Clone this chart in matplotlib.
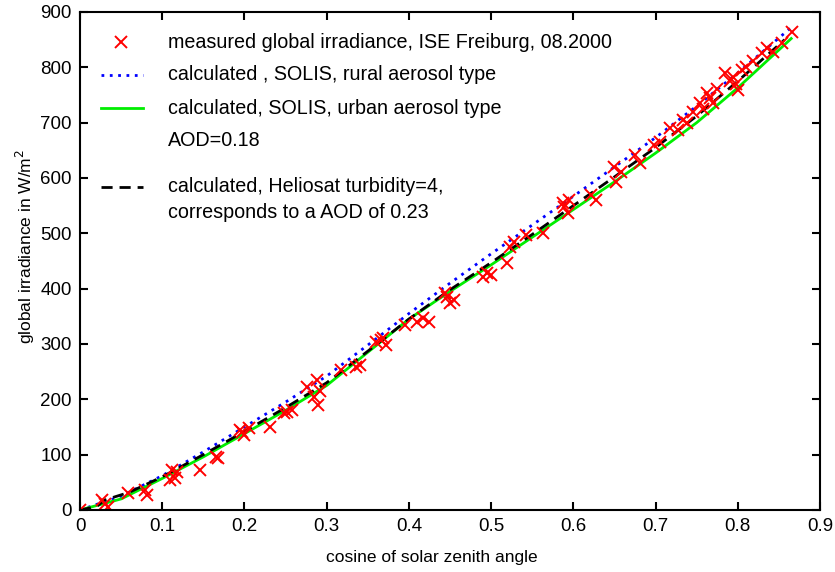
import numpy as np
import matplotlib
matplotlib.use("Agg")
import matplotlib.pyplot as plt

plt.rcParams['font.family'] = ['Liberation Sans', 'DejaVu Sans']

# measured points (cosine of zenith angle, W/m2)
cos_meas = [0.000, 0.027, 0.030, 0.034, 0.058, 0.079, 0.082, 0.109, 0.112, 0.115,
            0.118, 0.146, 0.165, 0.168, 0.195, 0.197, 0.200, 0.205, 0.231, 0.248,
            0.252, 0.258, 0.276, 0.285, 0.288, 0.289, 0.292, 0.318, 0.336, 0.340,
            0.360, 0.366, 0.368, 0.372, 0.395, 0.410, 0.417, 0.425, 0.444, 0.446,
            0.450, 0.455, 0.490, 0.495, 0.500, 0.519, 0.523, 0.528, 0.543, 0.563,
            0.587, 0.589, 0.593, 0.595, 0.622, 0.627, 0.650, 0.652, 0.658, 0.675,
            0.681, 0.698, 0.705, 0.718, 0.727, 0.733, 0.738, 0.745, 0.754, 0.758,
            0.762, 0.766, 0.770, 0.775, 0.785, 0.790, 0.794, 0.798, 0.800, 0.805,
            0.810, 0.818, 0.830, 0.836, 0.843, 0.854, 0.866]
irr_meas = [0, 18, 10, 5, 30, 36, 27, 54, 72, 58,
            68, 72, 96, 94, 145, 141, 135, 148, 150, 175,
            177, 180, 222, 205, 235, 190, 215, 253, 259, 262,
            304, 308, 311, 298, 334, 340, 347, 340, 392, 385,
            374, 380, 421, 428, 425, 446, 475, 485, 497, 500,
            555, 548, 537, 560, 569, 560, 620, 593, 610, 642,
            627, 660, 665, 690, 687, 705, 700, 720, 736, 725,
            754, 745, 736, 760, 790, 775, 783, 770, 759, 795,
            801, 812, 826, 835, 828, 844, 864]

# SOLIS model curves
cos_model = [0, 0.05, 0.1, 0.15, 0.2, 0.25, 0.3, 0.35, 0.4, 0.45, 0.5, 0.55,
             0.6, 0.65, 0.7, 0.75, 0.8, 0.865]
solis_rural = [0, 25, 62, 105, 150, 195, 242, 298, 355, 410, 463, 515,
               567, 620, 673, 730, 790, 872]
solis_urban = [0, 20, 57, 96, 138, 180, 225, 285, 345, 395, 443, 493,
               543, 593, 645, 700, 763, 852]

# Heliosat
cos_helio = [0, 0.02, 0.03, 0.06, 0.1, 0.15, 0.2, 0.25, 0.3, 0.35, 0.4, 0.45,
             0.5, 0.55, 0.6, 0.65, 0.7, 0.75, 0.8, 0.857]
helio = [0, 6, 18, 32, 60, 100, 142, 185, 230, 287, 345, 398,
         447, 498, 550, 602, 655, 712, 775, 850]

fig = plt.figure(figsize=(8.35, 5.72), dpi=100)
ax = fig.add_axes([80/835, 62/572, 740/835, 498/572])

ax.plot(cos_model, solis_rural, color='blue', ls=(0, (1, 2)), lw=2)
ax.plot(cos_model, solis_urban, color='#00ee00', ls='-', lw=2)
ax.plot(cos_helio, helio, color='black', ls=(0, (4, 2.5)), lw=2)
ax.plot(cos_meas, irr_meas, ls='none', marker='x', color='red', ms=9, mew=1.4)

ax.set_xlim(0, 0.9)
ax.set_ylim(0, 900)
ax.set_xticks(np.arange(0, 0.91, 0.1))
ax.set_xticklabels(['0'] + ['%.1f' % v for v in np.arange(0.1, 0.91, 0.1)])
ax.set_yticks(np.arange(0, 901, 100))
ax.tick_params(direction='in', length=6, width=1.5, labelsize=13.5,
               top=True, right=True, pad=6)
for s in ax.spines.values():
    s.set_linewidth(1.5)

ax.set_xlabel('cosine of solar zenith angle', fontsize=12.5)
ax.xaxis.set_label_coords(0.476, -0.08)
ax.set_ylabel('global irradiance in W/m$^2$', fontsize=12.5)
ax.yaxis.set_label_coords(-0.058, 0.53)

# legend drawn by hand (no frame, uneven spacing like the original)
def ax_pt(px, py):
    return (px - 80) / 740, (510 - py) / 498

tx = ax_pt(168, 0)[0]
rows = [
    (42, 'measured global irradiance, ISE Freiburg, 08.2000', 'm'),
    (75, 'calculated , SOLIS, rural aerosol type', 'r'),
    (108, 'calculated, SOLIS, urban aerosol type', 'u'),
    (140, 'AOD=0.18', None),
    (187, 'calculated, Heliosat turbidity=4,', 'h'),
    (212, 'corresponds to a AOD of 0.23', None),
]
x0 = ax_pt(101, 0)[0]
x1 = ax_pt(143, 0)[0]
for py, label, kind in rows:
    ty = ax_pt(0, py)[1]
    ax.text(tx, ty, label, transform=ax.transAxes, va='center', ha='left',
            fontsize=14.2)
    if kind == 'm':
        ax.plot([ax_pt(121, 0)[0]], [ty], transform=ax.transAxes, ls='none',
                marker='x', color='red', ms=9, mew=1.4)
    elif kind == 'r':
        ax.plot([x0, x1], [ty, ty], transform=ax.transAxes, color='blue',
                ls=(0, (1, 2)), lw=2)
    elif kind == 'u':
        ax.plot([x0, x1], [ty, ty], transform=ax.transAxes, color='#00ee00',
                ls='-', lw=2)
    elif kind == 'h':
        ax.plot([x0, x1], [ty, ty], transform=ax.transAxes, color='black',
                ls=(0, (4, 2.5)), lw=2)

fig.savefig('out.png', dpi=100)
